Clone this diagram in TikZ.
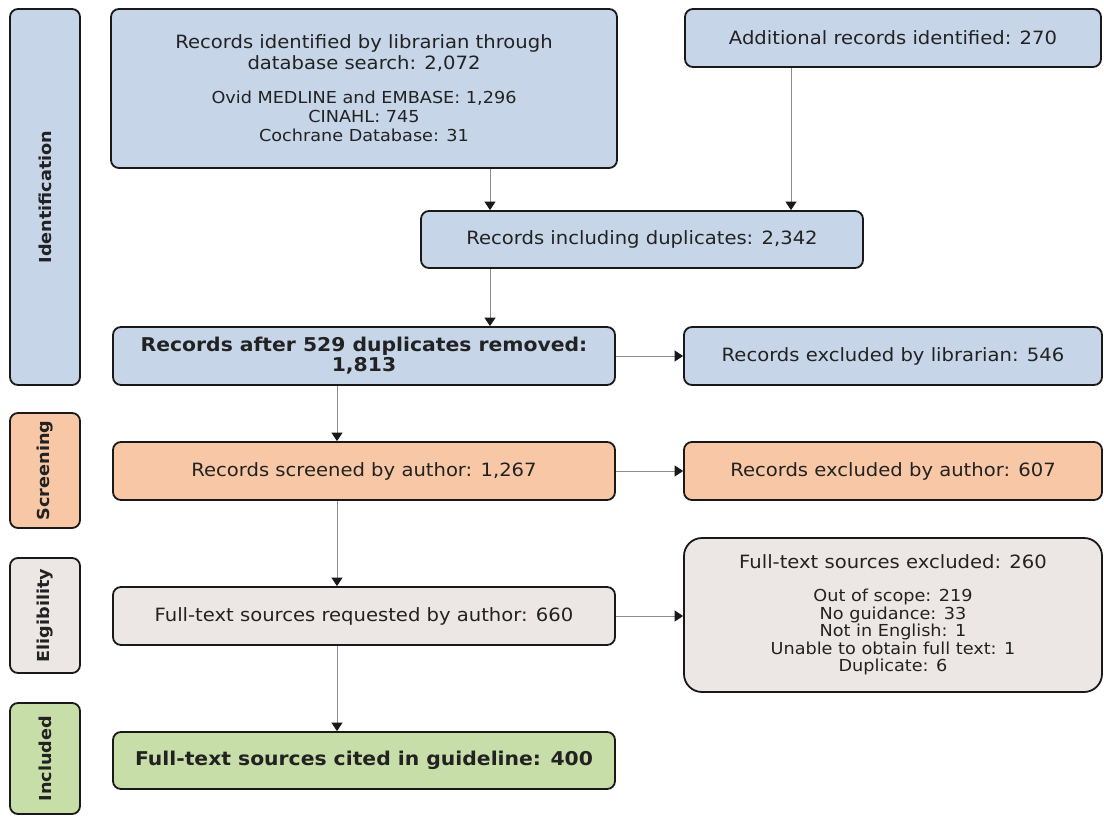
\documentclass[tikz,border=0pt]{standalone}
\usepackage{fontspec}
\setmainfont{DejaVu Sans}[FakeStretch=1.07]
\usetikzlibrary{arrows.meta}
\definecolor{fblue}{HTML}{C6D5E8}
\definecolor{forange}{HTML}{F8C8A6}
\definecolor{fgray}{HTML}{ECE7E5}
\definecolor{fgreen}{HTML}{C8DEA8}
\definecolor{txt}{HTML}{222222}
\definecolor{conn}{HTML}{8C8C8C}
\newcommand{\subsize}{\fontsize{16.5}{18.5}\selectfont}
\tikzset{
  box/.style={draw=black!90, line width=1.8pt, rounded corners=8pt, text=txt, align=center, inner sep=0pt},
  stagebox/.style={box, minimum width=70pt, font=\fontsize{16.5}{18}\selectfont\bfseries},
  maintxt/.style={font=\fontsize{18.3}{21}\selectfont},
  boldtxt/.style={font=\fontsize{19}{20}\selectfont\bfseries},
  conn/.style={draw=conn, line width=0.9pt, -{Triangle[length=8.5pt,width=11pt,color=black!90]}},
}
\begin{document}
\begin{tikzpicture}[x=1pt,y=-1pt]
\useasboundingbox (0,0) rectangle (1104,817);
\fill[white] (0,0) rectangle (1104,817);
% stage labels
\node[stagebox, fill=fblue, minimum height=376pt] (sid) at (45,197) {\rotatebox{90}{Identification}};
\node[stagebox, fill=forange, minimum height=115pt] (ssc) at (45,470.5) {\rotatebox{90}{Screening}};
\node[stagebox, fill=fgray, minimum height=115pt] (sel) at (45,615.5) {\rotatebox{90}{Eligibility}};
\node[stagebox, fill=fgreen, minimum height=111pt] (sin) at (45,758.5) {\rotatebox{90}{Included}};
% boxes
\node[box, maintxt, fill=fblue, minimum width=506pt, minimum height=159pt] (A) at (364,88.5)
  {Records identified by librarian through\\database search: 2,072\\[13pt]\subsize Ovid MEDLINE and EMBASE: 1,296\\[-2pt]\subsize CINAHL: 745\\[-2pt]\subsize Cochrane Database: 31};
\node[box, maintxt, fill=fblue, minimum width=416pt, minimum height=58pt] (B) at (893,38) {Additional records identified: 270};
\node[box, maintxt, fill=fblue, minimum width=442pt, minimum height=57pt] (C) at (642,239.5) {Records including duplicates: 2,342};
\node[box, boldtxt, fill=fblue, minimum width=502pt, minimum height=58pt] (D) at (364,356) {Records after 529 duplicates removed:\\1,813};
\node[box, maintxt, fill=fblue, minimum width=418pt, minimum height=58pt] (E) at (893,356) {Records excluded by librarian: 546};
\node[box, maintxt, fill=forange, minimum width=502pt, minimum height=58pt] (F) at (364,471) {Records screened by author: 1,267};
\node[box, maintxt, fill=forange, minimum width=418pt, minimum height=58pt] (G) at (893,471) {Records excluded by author: 607};
\node[box, maintxt, fill=fgray, minimum width=502pt, minimum height=58pt] (H) at (364,616) {Full-text sources requested by author: 660};
\node[box, maintxt, fill=fgray, minimum width=418pt, minimum height=154pt, rounded corners=18pt] (I) at (893,615)
  {Full-text sources excluded: 260\\[12pt]\subsize Out of scope: 219\\[-3.5pt]\subsize No guidance: 33\\[-3.5pt]\subsize Not in English: 1\\[-3.5pt]\subsize Unable to obtain full text: 1\\[-3.5pt]\subsize Duplicate: 6};
\node[box, boldtxt, fill=fgreen, minimum width=502pt, minimum height=57pt] (J) at (364,760.5) {Full-text sources cited in guideline: 400};
% connector x positions
\coordinate (xac) at (490,0);
\coordinate (xbc) at (791,0);
\coordinate (xdf) at (337,0);
% connectors
\draw[conn] (A.south -| xac) -- (C.north -| xac);
\draw[conn] (B.south -| xbc) -- (C.north -| xbc);
\draw[conn] (C.south -| xac) -- (D.north -| xac);
\draw[conn] (D.east) -- (D.east -| E.west);
\draw[conn] (D.south -| xdf) -- (F.north -| xdf);
\draw[conn] (F.east) -- (F.east -| G.west);
\draw[conn] (F.south -| xdf) -- (H.north -| xdf);
\draw[conn] (H.east) -- (H.east -| I.west);
\draw[conn] (H.south -| xdf) -- (J.north -| xdf);
\end{tikzpicture}
\end{document}
